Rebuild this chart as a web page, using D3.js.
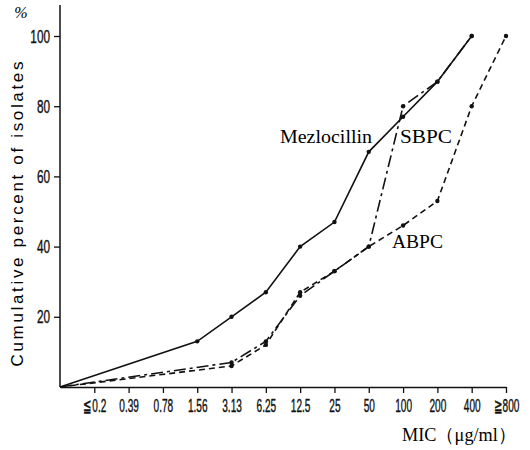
<!DOCTYPE html>
<html>
<head>
<meta charset="utf-8">
<script src="https://cdn.jsdelivr.net/npm/d3@7"></script>
<style>
  body { margin: 0; background: #fff; }
</style>
</head>
<body>
<div id="chart"></div>
<script>
// MIC categories (first one is the origin, no label)
const micLabels = ["0", "≦0.2", "0.39", "0.78", "1.56", "3.13", "6.25", "12.5", "25", "50", "100", "200", "400", "≧800"]
const yTicks = [20, 40, 60, 80, 100]

// cumulative percent per drug: [category, percent]
const mezlocillin = [["0", 0], ["1.56", 13], ["3.13", 20], ["6.25", 27], ["12.5", 40], ["25", 47], ["50", 67], ["100", 77], ["200", 87], ["400", 100]]
const sbpc = [["0", 0], ["3.13", 7], ["6.25", 13], ["12.5", 26], ["25", 33], ["50", 40], ["100", 80], ["200", 87], ["400", 100]]
const abpc = [["0", 0], ["3.13", 6], ["6.25", 12], ["12.5", 27], ["25", 33], ["50", 40], ["100", 46], ["200", 53], ["400", 80], ["≧800", 100]]

const width = 530, height = 450
const squeezeX = 0.56, squeezeY = 0.62   // narrow tick lettering

const svg = d3.select("#chart")
  .append("svg")
    .attr("width", width)
    .attr("height", height)

const x = d3.scalePoint()
  .domain(micLabels)
  .range([60, 506])

const y = d3.scaleLinear()
  .domain([0, 100])
  .range([387, 36])

const tickFont = size => g => g.selectAll(".tick text")
  .attr("fill", "#111")
  .attr("stroke", "#111")
  .attr("stroke-width", 0.4)
  .attr("font-family", "'Liberation Sans', sans-serif")
  .attr("font-size", size)

// x axis
svg.append("g")
  .attr("transform", "translate(0,387)")
  .call(d3.axisBottom(x).tickValues(micLabels.slice(1)).tickSize(6).tickSizeOuter(0).tickPadding(6))
  .call(g => g.selectAll("line, path").attr("stroke", "#111").attr("stroke-width", 1.3))
  .call(tickFont(18))
  .call(g => g.selectAll(".tick text").attr("transform", `scale(${squeezeX},1)`))

// y axis
svg.append("g")
  .attr("transform", "translate(60,0)")
  .call(d3.axisLeft(y).tickValues(yTicks).tickSize(6).tickSizeOuter(0))
  .call(g => g.select(".domain").remove())
  .call(g => g.selectAll("line").attr("stroke", "#111").attr("stroke-width", 1.3))
  .call(tickFont(19))
  .call(g => g.selectAll(".tick text")
    .attr("x", -10 / squeezeY)
    .attr("transform", `scale(${squeezeY},1)`))

svg.append("line")
  .attr("x1", 60).attr("x2", 60)
  .attr("y1", 5).attr("y2", 387)
  .attr("stroke", "#111")
  .attr("stroke-width", 1.5)

const line = d3.line()
  .x(d => x(d[0]))
  .y(d => y(d[1]))

const series = [
  {name: "Mezlocillin", data: mezlocillin, dash: null},
  {name: "SBPC", data: sbpc, dash: "12,4,3,4"},
  {name: "ABPC", data: abpc, dash: "6,4"}
]

series.forEach(s => {
  svg.append("path")
    .datum(s.data)
    .attr("fill", "none")
    .attr("stroke", "#111")
    .attr("stroke-width", 1.6)
    .attr("stroke-dasharray", s.dash)
    .attr("d", line)

  svg.append("g")
    .selectAll("circle")
    .data(s.data.slice(1))
    .join("circle")
      .attr("cx", d => x(d[0]))
      .attr("cy", d => y(d[1]))
      .attr("r", 2.2)
      .attr("fill", "#111")
})

// labels
const serif = "'Liberation Serif', 'DejaVu Serif', serif"

const label = (txt, lx, ly, len) => svg.append("text")
  .attr("x", lx).attr("y", ly)
  .attr("textLength", len)
  .attr("lengthAdjust", "spacingAndGlyphs")
  .style("font-family", serif).style("font-size", "19px")
  .text(txt)

label("Mezlocillin", 280, 143, 92)
label("SBPC", 400, 143, 52)
label("ABPC", 392, 248, 51)
label("MIC（μg/ml）", 402, 441, 114)

svg.append("text")
  .attr("x", 21).attr("y", 18)
  .attr("text-anchor", "middle")
  .style("font-family", serif).style("font-size", "16px").style("font-style", "italic")
  .text("%")

svg.append("text")
  .attr("transform", "translate(23,214) rotate(-90)")
  .attr("text-anchor", "middle")
  .attr("textLength", 305)
  .attr("lengthAdjust", "spacing")
  .style("font-family", "'Liberation Sans', sans-serif")
  .style("font-size", "17px")
  .text("Cumulative percent of isolates")
</script>
</body>
</html>
